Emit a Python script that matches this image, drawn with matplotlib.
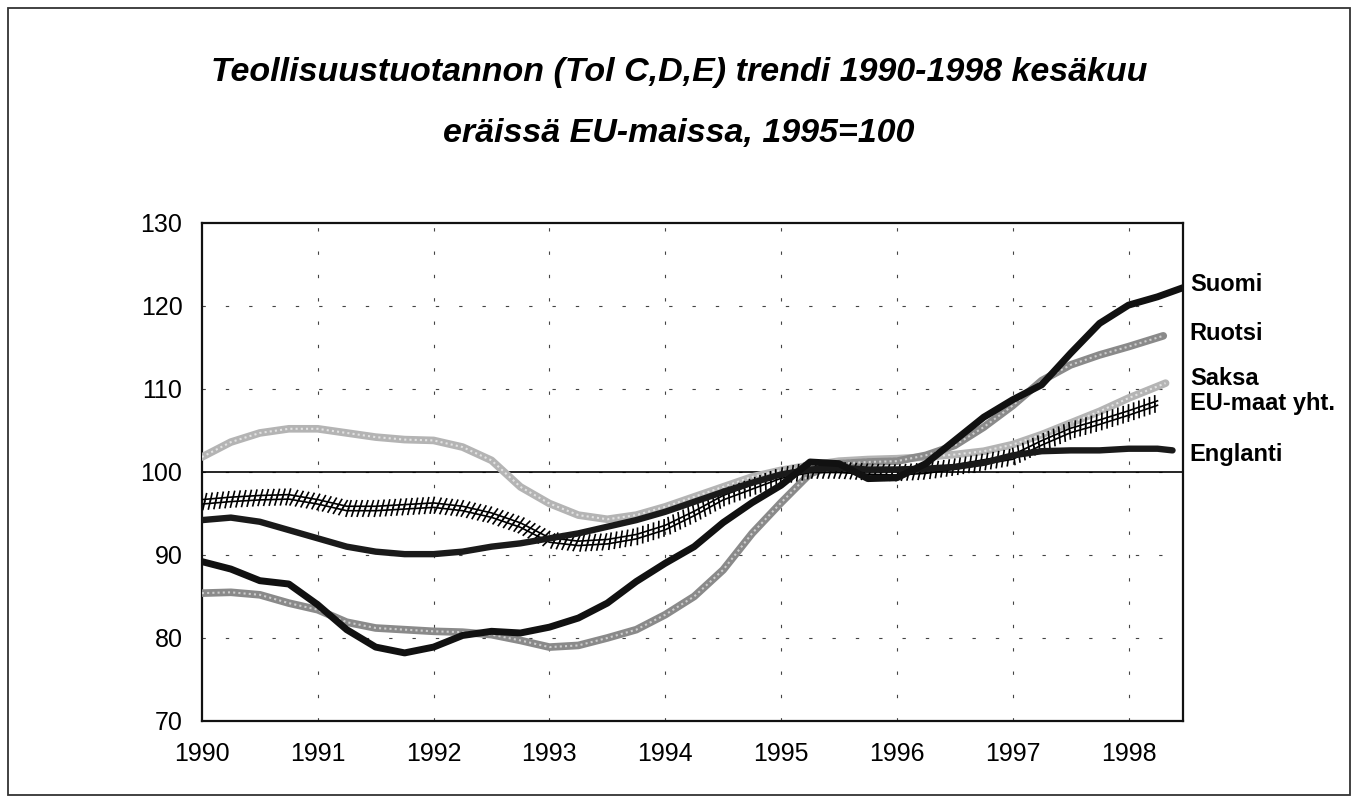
import matplotlib
matplotlib.use("Agg")
import matplotlib.pyplot as plt
import matplotlib.patheffects as pe
from matplotlib.patches import Rectangle
from matplotlib.transforms import blended_transform_factory

# quarterly time axis 1990.00 .. 1998.00
t_q = [1990 + i * 0.25 for i in range(33)]

suomi = [89.2, 88.3, 86.9, 86.5, 84.0, 81.0, 78.9, 78.2, 78.9, 80.3, 80.8, 80.6,
         81.3, 82.4, 84.2, 86.8, 89.0, 91.0, 93.9, 96.3, 98.4, 101.2, 101.0, 99.2,
         99.3, 101.0, 103.8, 106.6, 108.7, 110.5, 114.3, 117.9, 120.1, 121.1, 122.2]
suomi_x = t_q + [1998.25, 1998.47]

ruotsi = [85.4, 85.5, 85.2, 84.2, 83.4, 81.9, 81.2, 81.0, 80.8, 80.7, 80.4, 79.7,
          78.9, 79.1, 80.0, 81.0, 82.8, 85.0, 88.2, 92.6, 96.3, 99.8, 101.0, 101.2,
          101.3, 102.0, 103.2, 105.4, 108.0, 111.0, 112.9, 114.1, 115.1, 116.4]
ruotsi_x = t_q + [1998.30]

saksa = [101.8, 103.6, 104.7, 105.2, 105.2, 104.7, 104.2, 103.9, 103.8, 103.0, 101.4, 98.2,
         96.2, 94.8, 94.3, 94.8, 95.8, 97.0, 98.2, 99.4, 100.2, 100.8, 101.3, 101.5,
         101.6, 101.8, 102.1, 102.5, 103.3, 104.5, 105.9, 107.3, 108.9, 110.7]
saksa_x = t_q + [1998.32]

eu = [96.4, 96.7, 96.9, 97.0, 96.4, 95.6, 95.6, 95.8, 96.0, 95.6, 94.8, 93.6,
      91.8, 91.4, 91.6, 92.2, 93.3, 95.0, 96.9, 98.2, 99.5, 100.2, 100.2, 100.0,
      99.9, 100.1, 100.6, 101.2, 101.8, 103.5, 105.0, 106.0, 107.1, 108.3]
eu_x = t_q + [1998.25]

englanti = [94.2, 94.5, 94.0, 93.0, 92.0, 91.0, 90.4, 90.1, 90.1, 90.4, 91.0, 91.4,
            92.0, 92.6, 93.4, 94.2, 95.2, 96.4, 97.6, 98.7, 99.7, 100.3, 100.5, 100.3,
            100.3, 100.4, 100.6, 101.1, 102.0, 102.5, 102.6, 102.6, 102.8, 102.8, 102.6]
englanti_x = t_q + [1998.25, 1998.38]

labels = ["Suomi", "Ruotsi", "Saksa", "EU-maat yht.", "Englanti"]
label_y = [122.6, 116.7, 111.3, 108.3, 102.1]

years = list(range(1990, 1999))
yticks = [70, 80, 90, 100, 110, 120, 130]

narrow = ["Liberation Sans Narrow", "Liberation Sans", "DejaVu Sans"]
plain = ["Liberation Sans", "DejaVu Sans"]

fig = plt.figure(figsize=(13.58, 8), dpi=100)
fig.patches.append(Rectangle((0.006, 0.006), 0.988, 0.984, transform=fig.transFigure,
                             fill=False, edgecolor="#333333", linewidth=1.3))

fig.text(0.5, 0.909, "Teollisuustuotannon (Tol C,D,E) trendi 1990-1998 kesäkuu",
         ha="center", va="center", fontsize=24.5, fontweight="bold", fontstyle="italic",
         family=narrow)
fig.text(0.5, 0.833, "eräissä EU-maissa, 1995=100",
         ha="center", va="center", fontsize=24.5, fontweight="bold", fontstyle="italic",
         family=narrow)

ax = fig.add_axes([0.1487, 0.0988, 0.7224, 0.6225])
ax.set_xlim(1990, 1998.47)
ax.set_ylim(70, 130)

# sparse dotted grid
for y in yticks[1:-1]:
    ax.axhline(y, color="#444444", lw=0.8, dashes=(3, 18), zorder=1)
for x in years[1:]:
    ax.axvline(x, color="#444444", lw=0.8, dashes=(3, 18), zorder=1)
ax.axhline(100, color="black", lw=1.2, zorder=2)

# grey textured lines
ax.plot(saksa_x, saksa, color="#b4b4b4", lw=5.5, solid_capstyle="round",
        solid_joinstyle="round", zorder=3)
ax.plot(saksa_x, saksa, color="#e2e2e2", lw=1.5, dashes=(1, 1.5), zorder=3)
ax.plot(ruotsi_x, ruotsi, color="#8a8a8a", lw=5.5, solid_capstyle="round",
        solid_joinstyle="round", zorder=3)
ax.plot(ruotsi_x, ruotsi, color="#cdcdcd", lw=1.5, dashes=(1, 1.5), zorder=3)

# hash-marked EU line
hash_fx = [pe.Stroke(offset=(0, 1.6), linewidth=1.2, foreground="black"),
           pe.Stroke(offset=(0, -1.6), linewidth=1.2, foreground="black"),
           pe.TickedStroke(spacing=4.0, angle=72, length=1.45, linewidth=1.2, foreground="black"),
           pe.TickedStroke(spacing=4.0, angle=-108, length=1.45, linewidth=1.2, foreground="black")]
ax.plot(eu_x, eu, color="black", lw=1, path_effects=hash_fx, zorder=4)

ax.plot(englanti_x, englanti, color="#1a1a1a", lw=4.6, solid_capstyle="round",
        solid_joinstyle="round", zorder=5)
ax.plot(suomi_x, suomi, color="#111111", lw=5, solid_capstyle="round",
        solid_joinstyle="round", zorder=5)

tr = blended_transform_factory(ax.transAxes, ax.transData)
for name, yv in zip(labels, label_y):
    ax.text(1.007, yv, name, transform=tr, ha="left", va="center", fontsize=17,
            fontweight="bold", family=narrow)

ax.set_xticks(years)
ax.set_xticklabels([str(y) for y in years], family=plain, fontsize=18)
ax.set_yticks(yticks)
ax.set_yticklabels([str(y) for y in yticks], family=plain, fontsize=18)
ax.tick_params(axis="x", length=0, pad=15)
ax.tick_params(axis="y", length=0, pad=14)
for s in ax.spines.values():
    s.set_linewidth(1.6)
    s.set_color("#111111")

fig.savefig("out.png", dpi=100)
